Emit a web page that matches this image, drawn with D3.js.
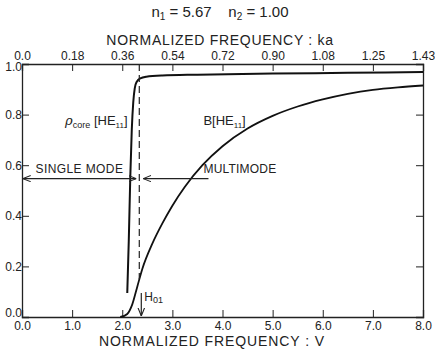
<!DOCTYPE html>
<html>
<head>
<meta charset="utf-8">
<script src="https://cdn.jsdelivr.net/npm/d3@7"></script>
<style>
  body { margin: 0; background: #fff; }
  svg text { font-family: "Liberation Sans", "DejaVu Sans", sans-serif; fill: #222; }
</style>
</head>
<body>
<div id="container"></div>
<script>
/* CONSTANTS AND GLOBALS */
const width = 435,
  height = 352,
  margin = { top: 64, bottom: 35, left: 22, right: 12 };

// axis ticks
const vTicks = [0, 1, 2, 3, 4, 5, 6, 7, 8];
const kaLabels = ["0.0", "0.18", "0.36", "0.54", "0.72", "0.90", "1.08", "1.25", "1.43"];
const yTicks = [0, 0.2, 0.4, 0.6, 0.8, 1.0];

// rho_core [HE11] curve
const rhoV   = [2.10, 2.13, 2.16, 2.19, 2.22, 2.25, 2.29, 2.36, 2.48, 2.80, 3.5, 5.0, 6.5, 8.0];
const rhoVal = [0.095, 0.30, 0.55, 0.74, 0.85, 0.905, 0.93, 0.943, 0.95, 0.955, 0.958, 0.962, 0.965, 0.968];

// B [HE11] curve
const bV   = [1.96, 2.10, 2.20, 2.30, 2.40, 2.60, 2.80, 3.00, 3.25, 3.60, 4.00, 4.50, 5.00, 5.50, 6.00, 6.50, 7.00, 7.50, 8.00];
const bVal = [0.0, 0.012, 0.05, 0.12, 0.19, 0.29, 0.37, 0.44, 0.515, 0.60, 0.675, 0.745, 0.795, 0.832, 0.86, 0.882, 0.898, 0.908, 0.915];

const cutoffV = 2.34;     // dashed single-mode cutoff
const arrowLevel = 0.547; // level of the mode arrows

const svg = d3.select("#container")
  .append("svg")
  .attr("width", width)
  .attr("height", height);

// + SCALES
const xScale = d3.scaleLinear()
  .domain([0, 8])
  .range([margin.left, width - margin.right]);

const yScale = d3.scaleLinear()
  .domain([0, 1])
  .range([height - margin.bottom, margin.top]);

// arrow heads
const defs = svg.append("defs");
defs.append("marker")
  .attr("id", "head")
  .attr("viewBox", "0 0 10 10")
  .attr("refX", 10).attr("refY", 5)
  .attr("markerWidth", 7).attr("markerHeight", 7)
  .attr("orient", "auto-start-reverse")
  .append("path")
  .attr("d", "M0,1 L10,5 L0,9")
  .attr("fill", "none")
  .attr("stroke", "#222")
  .attr("stroke-width", 1.3);

// + AXES (ticks point inward)
const xAxis = d3.axisBottom(xScale).tickValues(vTicks).tickSize(-7).tickPadding(4)
  .tickFormat(d3.format(".1f"));
const xTopAxis = d3.axisTop(xScale).tickValues(vTicks).tickSize(-7).tickPadding(4)
  .tickFormat((d, i) => kaLabels[i]);
const yAxis = d3.axisLeft(yScale).tickValues(yTicks).tickSize(-7).tickPadding(3)
  .tickFormat(d3.format(".1f"));
const yRightAxis = d3.axisRight(yScale).tickValues(yTicks).tickSize(-7).tickFormat("");

const axisGroups = [
  svg.append("g").attr("transform", `translate(0, ${yScale(0)})`).call(xAxis),
  svg.append("g").attr("transform", `translate(0, ${yScale(1)})`).call(xTopAxis),
  svg.append("g").attr("transform", `translate(${xScale(0)}, 0)`).call(yAxis),
  svg.append("g").attr("transform", `translate(${xScale(8)}, 0)`).call(yRightAxis)
];
axisGroups.forEach(g => {
  g.select(".domain").attr("stroke", "#222").attr("stroke-width", 1.3);
  g.selectAll(".tick line").attr("stroke", "#222").attr("stroke-width", 1);
  g.selectAll(".tick text")
    .attr("font-size", 12)
    .attr("font-family", "Liberation Sans, sans-serif")
    .attr("fill", "#333");
});
// keep corner labels clear of each other
axisGroups[2].selectAll(".tick text")
  .attr("dx", 3)
  .attr("y", d => d === 0 ? -4 : (d === 1 ? 3 : 0));

// + TITLES
svg.append("text")
  .attr("x", 220).attr("y", 17)
  .attr("text-anchor", "middle")
  .attr("font-size", 15)
  .html('n<tspan font-size="10" dy="3">1</tspan><tspan dy="-3"> = 5.67&#160;&#160;&#160; n</tspan><tspan font-size="10" dy="3">2</tspan><tspan dy="-3"> = 1.00</tspan>');

svg.append("text")
  .attr("x", 220).attr("y", 45)
  .attr("text-anchor", "middle")
  .attr("font-size", 14)
  .attr("letter-spacing", 0.7)
  .text("NORMALIZED  FREQUENCY : ka");

svg.append("text")
  .attr("x", 212).attr("y", 346)
  .attr("text-anchor", "middle")
  .attr("font-size", 14)
  .attr("letter-spacing", 0.9)
  .text("NORMALIZED  FREQUENCY : V");

// + LINES
const lineGen = d3.line()
  .x(d => xScale(d[0]))
  .y(d => yScale(d[1]))
  .curve(d3.curveMonotoneX);

svg.append("path")
  .datum(rhoV.map((v, i) => [v, rhoVal[i]]))
  .attr("fill", "none")
  .attr("stroke", "#111")
  .attr("stroke-width", 2)
  .attr("d", lineGen);

svg.append("path")
  .datum(bV.map((v, i) => [v, bVal[i]]))
  .attr("fill", "none")
  .attr("stroke", "#111")
  .attr("stroke-width", 1.8)
  .attr("d", lineGen);

// dashed cutoff
svg.append("line")
  .attr("x1", xScale(cutoffV)).attr("x2", xScale(cutoffV))
  .attr("y1", yScale(1)).attr("y2", yScale(0.15))
  .attr("stroke", "#222")
  .attr("stroke-width", 1.2)
  .attr("stroke-dasharray", "7,4");

// H01 arrow
svg.append("line")
  .attr("x1", xScale(cutoffV + 0.04)).attr("x2", xScale(cutoffV + 0.04))
  .attr("y1", yScale(0.095)).attr("y2", yScale(0) - 1)
  .attr("stroke", "#222")
  .attr("stroke-width", 1.2)
  .attr("marker-end", "url(#head)");

svg.append("text")
  .attr("x", xScale(cutoffV + 0.1)).attr("y", yScale(0.065))
  .attr("font-size", 12)
  .html('H<tspan font-size="9" dy="2">01</tspan>');

// mode arrows
svg.append("line")
  .attr("x1", xScale(0) + 1).attr("x2", xScale(cutoffV) - 3)
  .attr("y1", yScale(arrowLevel)).attr("y2", yScale(arrowLevel))
  .attr("stroke", "#222").attr("stroke-width", 1.1)
  .attr("marker-start", "url(#head)")
  .attr("marker-end", "url(#head)");

svg.append("line")
  .attr("x1", xScale(cutoffV) + 4).attr("x2", xScale(3.72))
  .attr("y1", yScale(arrowLevel)).attr("y2", yScale(arrowLevel))
  .attr("stroke", "#222").attr("stroke-width", 1.1)
  .attr("marker-start", "url(#head)");

svg.append("text")
  .attr("x", xScale(0.27)).attr("y", yScale(arrowLevel) - 6)
  .attr("font-size", 12)
  .attr("letter-spacing", 0.4)
  .text("SINGLE  MODE");

svg.append("text")
  .attr("x", xScale(3.62)).attr("y", yScale(arrowLevel) - 6)
  .attr("font-size", 12)
  .attr("letter-spacing", 0.2)
  .text("MULTIMODE");

// curve labels
svg.append("text")
  .attr("x", xScale(0.86)).attr("y", yScale(0.76))
  .attr("font-size", 13)
  .html('<tspan font-style="italic" font-family="DejaVu Serif, serif">ρ</tspan><tspan font-size="9" dy="3">core</tspan><tspan dy="-3"> [HE</tspan><tspan font-size="8" dy="3">11</tspan><tspan dy="-3">]</tspan>');

svg.append("text")
  .attr("x", xScale(3.62)).attr("y", yScale(0.76))
  .attr("font-size", 13)
  .html('B[HE<tspan font-size="8" dy="3">11</tspan><tspan dy="-3">]</tspan>');
</script>
</body>
</html>
